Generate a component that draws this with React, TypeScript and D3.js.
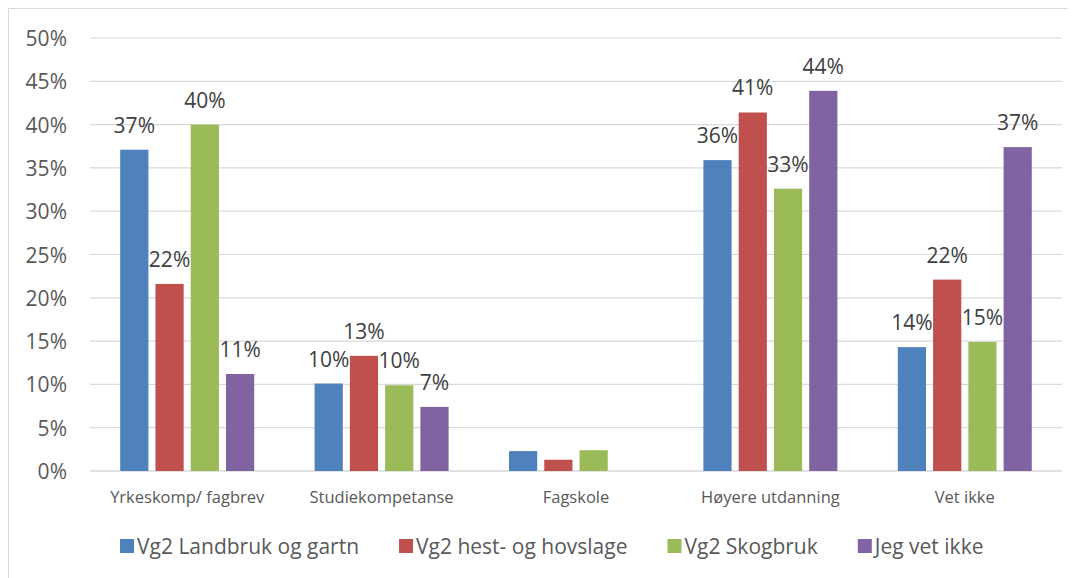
import React from "react";
import * as d3 from "d3";

const categories = [
  "Yrkeskomp/ fagbrev",
  "Studiekompetanse",
  "Fagskole",
  "Høyere utdanning",
  "Vet ikke",
];
const seriesNames = [
  "Vg2 Landbruk og gartn",
  "Vg2 hest- og hovslage",
  "Vg2 Skogbruk",
  "Jeg vet ikke",
];
const colors = ["#4f81bd", "#c0504d", "#9bbb59", "#8064a2"];
// values in percent, per series, in category order
const landbruk = [37.1, 10.1, 2.3, 35.9, 14.3];
const hest = [21.6, 13.3, 1.3, 41.4, 22.1];
const skogbruk = [40.0, 9.9, 2.4, 32.6, 14.9];
const jegVetIkke = [11.2, 7.4, 0, 43.9, 37.4];
// which categories carry data labels (Fagskole has none)
const showLabel = [true, true, false, true, true];
const yTicks = [0, 5, 10, 15, 20, 25, 30, 35, 40, 45, 50];

const series = [landbruk, hest, skogbruk, jegVetIkke];

const W = 1076;
const H = 578;
const margin = { left: 90, right: 14, top: 38, bottom: 107 };
const FONT = "'Open Sans', 'Noto Sans', sans-serif";

function textWidth(s: string, size: number) {
  const c = document.createElement("canvas").getContext("2d");
  if (!c) return s.length * size * 0.5;
  c.font = `${size}px 'Open Sans'`;
  return c.measureText(s).width;
}

export default function App() {
  const x0 = d3
    .scaleBand()
    .domain(categories)
    .range([margin.left, W - margin.right]);
  const y = d3
    .scaleLinear()
    .domain([0, 50])
    .range([H - margin.bottom, margin.top]);
  const groupW = 134;
  const x1 = d3
    .scaleBand<number>()
    .domain(d3.range(series.length))
    .range([0, groupW])
    .paddingInner(0.2);

  const legendSize = 21;
  let lx = 120;
  const legendItems = seriesNames.map((name, i) => {
    const item = { name, x: lx, color: colors[i] };
    lx += 17 + textWidth(name, legendSize) + 40;
    return item;
  });

  return (
    <svg
      width={W}
      height={H}
      style={{ position: "absolute", left: 0, top: 0, background: "#fff" }}
      fontFamily={FONT}
    >
      {/* chart frame: only top and left edges are visible */}
      <path d="M8.5,578V8.5H1068" fill="none" stroke="#d9d9d9" />
      {yTicks.map((t) => (
        <g key={t}>
          <line
            x1={margin.left}
            x2={W - margin.right}
            y1={y(t)}
            y2={y(t)}
            stroke="#d9d9d9"
            strokeWidth={t === 0 ? 1.5 : 1.2}
          />
          <text
            x={67}
            y={y(t)}
            textAnchor="end"
            dominantBaseline="central"
            fontSize={21}
            fill="#595959"
          >
            {t}%
          </text>
        </g>
      ))}
      {categories.map((c, ci) => {
        const gx = (x0(c) as number) + x0.bandwidth() / 2 - groupW / 2;
        return (
          <g key={c}>
            {series.map((vals, si) => {
              const v = vals[ci];
              if (v <= 0) return null;
              const bx = gx + (x1(si) as number);
              const bw = x1.bandwidth();
              return (
                <g key={si}>
                  <rect
                    x={bx}
                    y={y(v)}
                    width={bw}
                    height={y(0) - y(v)}
                    fill={colors[si]}
                  />
                  {showLabel[ci] && (
                    <text
                      x={bx + bw / 2}
                      y={y(v) - 25}
                      textAnchor="middle"
                      dominantBaseline="central"
                      fontSize={21}
                      fill="#404040"
                    >
                      {Math.round(v)}%
                    </text>
                  )}
                </g>
              );
            })}
            <text
              x={(x0(c) as number) + x0.bandwidth() / 2}
              y={496}
              textAnchor="middle"
              dominantBaseline="central"
              fontSize={16.5}
              fill="#595959"
            >
              {c}
            </text>
          </g>
        );
      })}
      {legendItems.map((it) => (
        <g key={it.name}>
          <rect x={it.x} y={539} width={14} height={14} fill={it.color} />
          <text
            x={it.x + 17}
            y={546}
            dominantBaseline="central"
            fontSize={legendSize}
            fill="#595959"
          >
            {it.name}
          </text>
        </g>
      ))}
    </svg>
  );
}
